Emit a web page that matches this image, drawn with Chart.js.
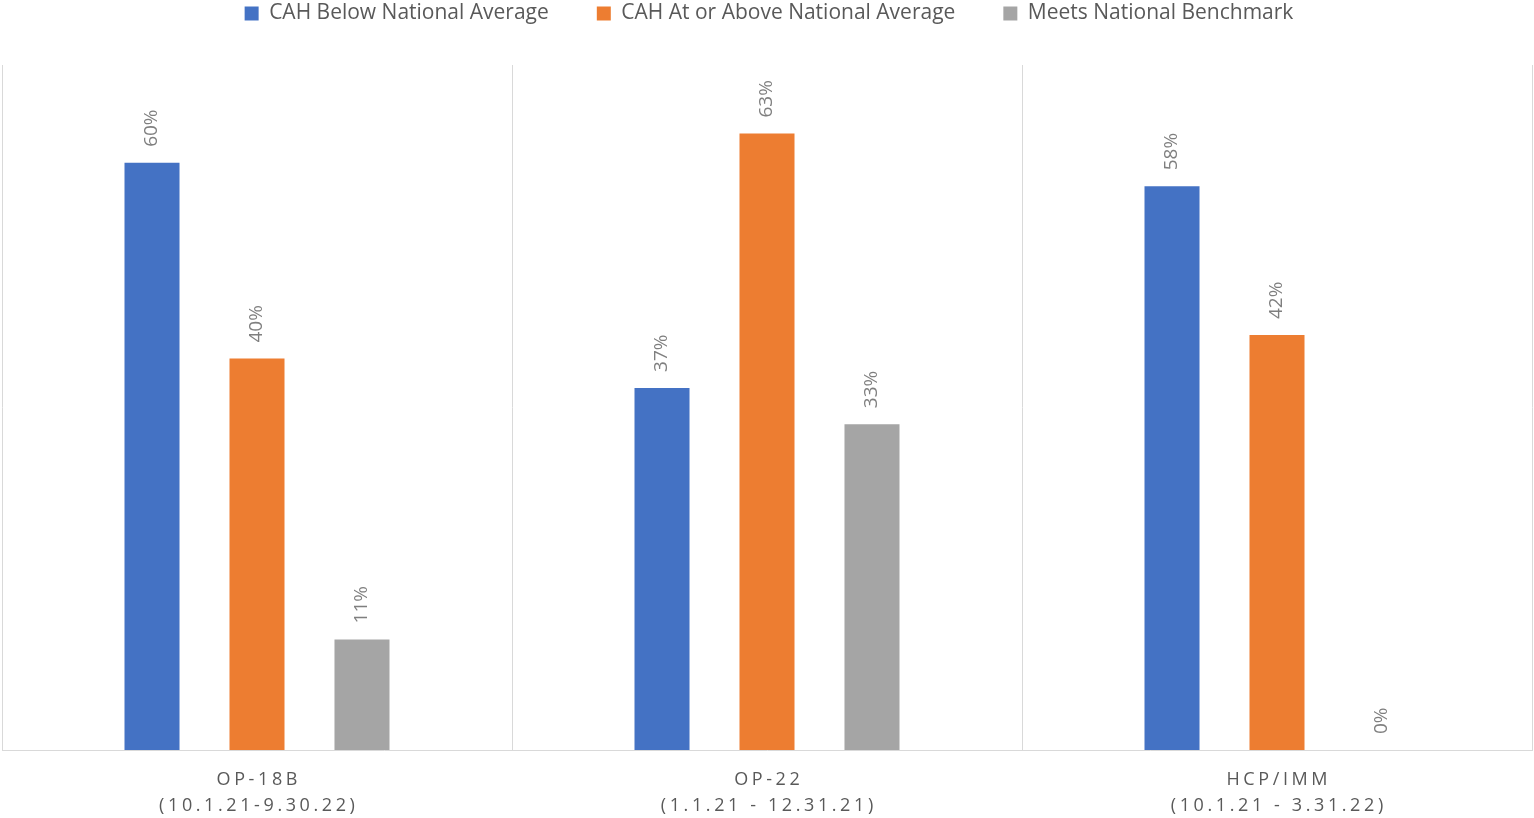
<!DOCTYPE html>
<html>
<head>
<meta charset="utf-8">
<script src="https://cdn.jsdelivr.net/npm/chart.js@4"></script>
<style>
  body { margin: 0; background: #fff; }
  #wrap { width: 1534px; height: 818px; }
</style>
</head>
<body>
<div id="wrap"><canvas id="barChart"></canvas></div>
<script>
const measures = ['OP-18B', 'OP-22', 'HCP/IMM'];
const periods = ['(10.1.21-9.30.22)', '(1.1.21 - 12.31.21)', '(10.1.21 - 3.31.22)'];
const belowAvg = [0.60, 0.37, 0.576];
const atOrAboveAvg = [0.40, 0.63, 0.424];
const meetsBenchmark = [0.113, 0.333, 0];

document.addEventListener("DOMContentLoaded", function() {
    Chart.defaults.font.family = "'Open Sans', sans-serif";
    const ctx = document.getElementById('barChart').getContext('2d');

    // squeeze legend into the top band
    const legendShift = {
        id: 'legendShift',
        beforeInit(chart) {
            const fit = chart.legend.fit;
            chart.legend.fit = function() {
                fit.bind(this)();
                this.height = 65;
            };
            const draw = chart.legend._draw;
            chart.legend._draw = function() {
                this.ctx.save();
                this.ctx.translate(2, -(this.options.labels.padding - 3));
                draw.bind(this)();
                this.ctx.restore();
            };
        }
    };

    const valueLabels = {
        id: 'valueLabels',
        afterDatasetsDraw(chart) {
            const c = chart.ctx;
            c.save();
            c.font = "19px 'Open Sans'";
            c.fillStyle = '#7f7f7f';
            c.textAlign = 'left';
            c.textBaseline = 'middle';
            chart.data.datasets.forEach((ds, di) => {
                chart.getDatasetMeta(di).data.forEach((bar, i) => {
                    c.save();
                    c.translate(bar.x, bar.y - 16);
                    c.rotate(-Math.PI / 2);
                    c.fillText(Math.round(ds.data[i] * 100) + '%', 0, 0);
                    c.restore();
                });
            });
            c.restore();
        }
    };

    const categoryLabels = {
        id: 'categoryLabels',
        afterDraw(chart) {
            const c = chart.ctx;
            const xs = chart.scales.x;
            c.save();
            c.font = "18px 'Open Sans'";
            c.fillStyle = '#595959';
            c.letterSpacing = '3.6px';
            c.textAlign = 'center';
            c.textBaseline = 'middle';
            measures.forEach((m, i) => {
                const x = xs.getPixelForValue(i) + 1.8;
                c.fillText(m, x, 780);
                c.fillText(periods[i], x, 806);
            });
            c.restore();
        }
    };

    new Chart(ctx, {
        type: 'bar',
        data: {
            labels: measures,
            datasets: [{
                label: 'CAH Below National Average',
                data: belowAvg,
                backgroundColor: '#4472C4'
            }, {
                label: 'CAH At or Above National Average',
                data: atOrAboveAvg,
                backgroundColor: '#ED7D31'
            }, {
                label: 'Meets National Benchmark',
                data: meetsBenchmark,
                backgroundColor: '#A5A5A5'
            }]
        },
        options: {
            responsive: true,
            maintainAspectRatio: false,
            animation: false,
            datasets: { bar: { categoryPercentage: 0.6176, barPercentage: 0.524 } },
            layout: { padding: { left: 2, right: 2, top: 0, bottom: 68 } },
            plugins: {
                legend: {
                    display: true,
                    position: 'top',
                    labels: {
                        boxWidth: 14, boxHeight: 14, padding: 48,
                        color: '#595959',
                        font: { size: 21 }
                    }
                },
                tooltip: { enabled: false }
            },
            scales: {
                x: {
                    grid: { color: '#d9d9d9', drawTicks: false, offset: true },
                    border: { color: '#d9d9d9' },
                    ticks: { display: false }
                },
                y: { display: false, min: 0, max: 0.7 }
            }
        },
        plugins: [legendShift, valueLabels, categoryLabels]
    });
});
</script>
</body>
</html>
